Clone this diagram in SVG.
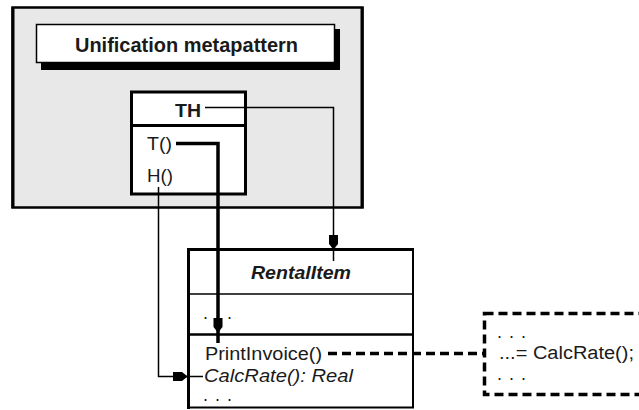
<svg xmlns="http://www.w3.org/2000/svg" width="639" height="410" viewBox="0 0 639 410">
  <style>
    text { font-family: "Liberation Sans", Arial, sans-serif; fill: #1a1a1a; }
    .bold { font-weight: bold; }
    .ital { font-style: italic; }
    .m { font-size: 18px; }
    .dots { font-size: 18px; letter-spacing: 1px; }
    .thin { fill: none; stroke: #000; stroke-width: 1.5; }
    .thick { fill: none; stroke: #000; stroke-width: 3.5; }
    .dash { fill: none; stroke: #000; stroke-width: 3.5; stroke-dasharray: 9 5; }
    .head { fill: #000; }
  </style>
  <defs>
    <path id="arrowDown" d="M-4.5,-14 H4.5 V-5 L0.5,0 H-0.5 L-4.5,-5 Z"/>
  </defs>

  <rect width="639" height="410" fill="#ffffff"/>

  <g id="unification-metapattern">
    <rect x="12.5" y="7.5" width="350" height="200" fill="#e8e8e8" stroke="#000" stroke-width="2.5"/>
    <line x1="13" y1="7" x2="13" y2="208" stroke="#000" stroke-width="3"/>
    <line x1="362" y1="7" x2="362" y2="208" stroke="#000" stroke-width="3"/>
    <rect x="41" y="29" width="299" height="41" fill="#000"/>
    <rect x="36.5" y="24.5" width="298" height="38" fill="#fff" stroke="#000" stroke-width="1.5"/>
    <text class="bold" x="186.5" y="52" font-size="20" text-anchor="middle" textLength="223" lengthAdjust="spacingAndGlyphs">Unification metapattern</text>
  </g>

  <g id="TH">
    <rect x="131.5" y="92" width="114" height="102" fill="#fff" stroke="#000" stroke-width="3"/>
    <line x1="131.5" y1="125.5" x2="245.5" y2="125.5" stroke="#000" stroke-width="3"/>
    <text class="bold m" x="188" y="117" text-anchor="middle" textLength="26" lengthAdjust="spacingAndGlyphs">TH</text>
    <text class="m" x="147" y="150" textLength="25" lengthAdjust="spacingAndGlyphs">T()</text>
    <text class="m" x="147" y="182" textLength="26" lengthAdjust="spacingAndGlyphs">H()</text>
  </g>

  <g id="RentalItem">
    <rect x="188" y="249.5" width="225" height="158" fill="#fff" stroke="#000" stroke-width="2"/>
    <line x1="188.5" y1="248" x2="188.5" y2="409" stroke="#000" stroke-width="3"/>
    <line x1="187" y1="249.5" x2="414" y2="249.5" stroke="#000" stroke-width="3"/>
    <line x1="188" y1="294" x2="413" y2="294" stroke="#000" stroke-width="1.5"/>
    <line x1="188" y1="334.5" x2="413" y2="334.5" stroke="#000" stroke-width="2.5"/>
    <text class="bold ital m" x="301" y="279" text-anchor="middle" textLength="100" lengthAdjust="spacingAndGlyphs">RentalItem</text>
    <text class="dots" x="203" y="319">. . .</text>
    <text class="m" x="205" y="360" textLength="117" lengthAdjust="spacingAndGlyphs">PrintInvoice()</text>
    <text class="ital m" x="204" y="382" textLength="149" lengthAdjust="spacingAndGlyphs">CalcRate(): Real</text>
    <text class="dots" x="203" y="401">. . .</text>
  </g>

  <g id="code-fragment">
    <rect x="484.5" y="313.5" width="200" height="81" fill="#fff" class="dash" stroke-dasharray="10 5"/>
    <text class="dots" x="497" y="338">. . .</text>
    <text class="m" x="499" y="359" textLength="135" lengthAdjust="spacingAndGlyphs">...= CalcRate();</text>
    <text class="dots" x="497" y="380">. . .</text>
  </g>

  <g id="connectors">
    <!-- TH to RentalItem -->
    <polyline class="thin" points="205,107.5 333.5,107.5 333.5,261"/>
    <use href="#arrowDown" x="333.5" y="249" class="head"/>
    <!-- T() to PrintInvoice -->
    <polyline class="thick" points="176,143.5 218,143.5 218,343"/>
    <use href="#arrowDown" x="218" y="332" class="head"/>
    <!-- H() to CalcRate -->
    <polyline class="thin" points="158.5,187 158.5,376.5 203,376.5"/>
    <use href="#arrowDown" transform="translate(187,376.5) rotate(-90)" class="head"/>
    <!-- PrintInvoice to code fragment -->
    <line class="dash" x1="328" y1="353.5" x2="484" y2="353.5"/>
  </g>
</svg>
